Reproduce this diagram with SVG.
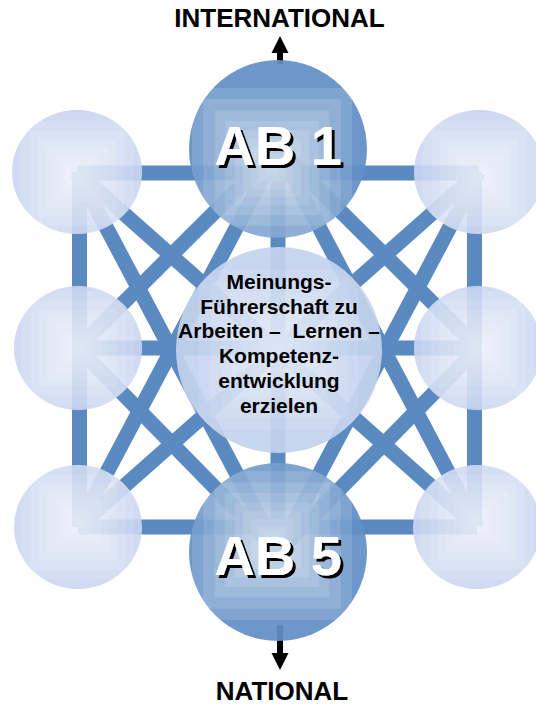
<svg xmlns="http://www.w3.org/2000/svg" xmlns:xlink="http://www.w3.org/1999/xlink" width="536" height="705" viewBox="0 0 536 705">
<style>
.ln{stroke:#5A8AC0;stroke-width:15;fill:none}
.arr{fill:#000}
.t{font-family:"Liberation Sans",Arial,sans-serif;font-weight:bold;text-anchor:middle}
.cap{font-size:26px;fill:#000}
.ab{font-size:56px;fill:#fff;filter:url(#shadow)}
.ctr{font-size:21px;fill:#000}
</style>
<defs>
<filter id="shadow" x="-10%" y="-10%" width="130%" height="130%">
<feDropShadow dx="3" dy="3" stdDeviation="0" flood-color="#000" flood-opacity="1"/>
</filter>
<g id="sq" fill="#fff">
<rect x="-1" y="-1" width="2" height="2" fill-opacity="0.13"/>
<rect x="-0.86" y="-0.86" width="1.72" height="1.72" fill-opacity="0.13"/>
<rect x="-0.72" y="-0.72" width="1.44" height="1.44" fill-opacity="0.13"/>
<rect x="-0.59" y="-0.59" width="1.18" height="1.18" fill-opacity="0.13"/>
<rect x="-0.47" y="-0.47" width="0.94" height="0.94" fill-opacity="0.13"/>
<rect x="-0.36" y="-0.36" width="0.72" height="0.72" fill-opacity="0.13"/>
<rect x="-0.26" y="-0.26" width="0.52" height="0.52" fill-opacity="0.13"/>
<rect x="-0.17" y="-0.17" width="0.34" height="0.34" fill-opacity="0.13"/>
<rect x="-0.09" y="-0.09" width="0.18" height="0.18" fill-opacity="0.13"/>
</g>
<clipPath id="c-tl"><ellipse cx="77" cy="172" rx="65" ry="62"/></clipPath>
<clipPath id="c-ml"><ellipse cx="78" cy="348" rx="64" ry="62"/></clipPath>
<clipPath id="c-bl"><ellipse cx="78" cy="527" rx="64" ry="62"/></clipPath>
<clipPath id="c-tr"><ellipse cx="479" cy="172" rx="65" ry="62"/></clipPath>
<clipPath id="c-mr"><ellipse cx="478" cy="348" rx="64" ry="62"/></clipPath>
<clipPath id="c-br"><ellipse cx="477" cy="527" rx="64" ry="62"/></clipPath>
<clipPath id="c-ab1"><circle cx="278" cy="149" r="89"/></clipPath>
<clipPath id="c-ab5"><circle cx="278" cy="552" r="89"/></clipPath>
<clipPath id="c-c"><circle cx="279" cy="350" r="103"/></clipPath>
</defs>

<g id="connectors">
<line class="ln" x1="77" y1="173" x2="479" y2="173"/>
<line class="ln" x1="78" y1="348" x2="478" y2="348"/>
<line class="ln" x1="78" y1="527" x2="477" y2="527"/>
<line class="ln" x1="79.5" y1="172" x2="79.5" y2="527"/>
<line class="ln" x1="278" y1="149" x2="278" y2="552"/>
<line class="ln" x1="474.5" y1="172" x2="474.5" y2="527"/>
<line class="ln" x1="77" y1="172" x2="477" y2="527"/>
<line class="ln" x1="479" y1="172" x2="78" y2="527"/>
<line class="ln" x1="78" y1="348" x2="278" y2="149"/>
<line class="ln" x1="78" y1="348" x2="278" y2="552"/>
<line class="ln" x1="478" y1="348" x2="278" y2="149"/>
<line class="ln" x1="478" y1="348" x2="278" y2="552"/>
<line class="ln" x1="77" y1="172" x2="278" y2="552"/>
<line class="ln" x1="479" y1="172" x2="278" y2="552"/>
<line class="ln" x1="78" y1="527" x2="278" y2="149"/>
<line class="ln" x1="477" y1="527" x2="278" y2="149"/>
<rect class="arr" x="277" y="50" width="6" height="14"/>
<polygon class="arr" points="271.5,53 288.5,53 280,36"/>
<rect class="arr" x="277" y="625" width="6" height="29"/>
<polygon class="arr" points="271.5,653 288.5,653 280,670"/>
</g>

<g id="node-tl">
<g opacity="0.9"><ellipse cx="77" cy="172" rx="65" ry="62" fill="#C4D2F0"/><g clip-path="url(#c-tl)"><use xlink:href="#sq" href="#sq" transform="translate(77,178) scale(66)"/></g></g>
</g>
<g id="node-ml">
<g opacity="0.9"><ellipse cx="78" cy="348" rx="64" ry="62" fill="#C4D2F0"/><g clip-path="url(#c-ml)"><use xlink:href="#sq" href="#sq" transform="translate(78,348) scale(66)"/></g></g>
</g>
<g id="node-bl">
<g opacity="0.9"><ellipse cx="78" cy="527" rx="64" ry="62" fill="#C4D2F0"/><g clip-path="url(#c-bl)"><use xlink:href="#sq" href="#sq" transform="translate(78,522) scale(66)"/></g></g>
</g>
<g id="node-tr">
<g opacity="0.9"><ellipse cx="479" cy="172" rx="65" ry="62" fill="#C4D2F0"/><g clip-path="url(#c-tr)"><use xlink:href="#sq" href="#sq" transform="translate(479,178) scale(66)"/></g></g>
</g>
<g id="node-mr">
<g opacity="0.9"><ellipse cx="478" cy="348" rx="64" ry="62" fill="#C4D2F0"/><g clip-path="url(#c-mr)"><use xlink:href="#sq" href="#sq" transform="translate(478,348) scale(66)"/></g></g>
</g>
<g id="node-br">
<g opacity="0.9"><ellipse cx="477" cy="527" rx="64" ry="62" fill="#C4D2F0"/><g clip-path="url(#c-br)"><use xlink:href="#sq" href="#sq" transform="translate(477,522) scale(66)"/></g></g>
</g>

<g id="node-center">
<g opacity="0.93"><circle cx="279" cy="350" r="103" fill="#C4D3EE"/><g clip-path="url(#c-c)"><use xlink:href="#sq" href="#sq" transform="translate(279,350) scale(80)" opacity="0.8"/></g></g>
<text class="t ctr" x="279" y="289">Meinungs-</text>
<text class="t ctr" x="279" y="314">Führerschaft zu</text>
<text class="t ctr" x="279" y="338" xml:space="preserve">Arbeiten –  Lernen –</text>
<text class="t ctr" x="279" y="363">Kompetenz-</text>
<text class="t ctr" x="279" y="388">entwicklung</text>
<text class="t ctr" x="279" y="413">erzielen</text>
</g>

<g id="node-ab1">
<g opacity="0.93"><circle cx="278" cy="149" r="89" fill="#6390C6"/><g clip-path="url(#c-ab1)"><use xlink:href="#sq" href="#sq" transform="translate(272,168) scale(80)"/></g></g>
<text class="t ab" x="278" y="165">AB 1</text>
</g>

<g id="node-ab5">
<g opacity="0.93"><circle cx="278" cy="552" r="89" fill="#6390C6"/><g clip-path="url(#c-ab5)"><use xlink:href="#sq" href="#sq" transform="translate(272,540) scale(80)"/></g></g>
<text class="t ab" x="278" y="575">AB 5</text>
</g>

<g id="labels">
<text class="t cap" x="279.5" y="27">INTERNATIONAL</text>
<text class="t cap" x="282" y="700">NATIONAL</text>
</g>
</svg>
